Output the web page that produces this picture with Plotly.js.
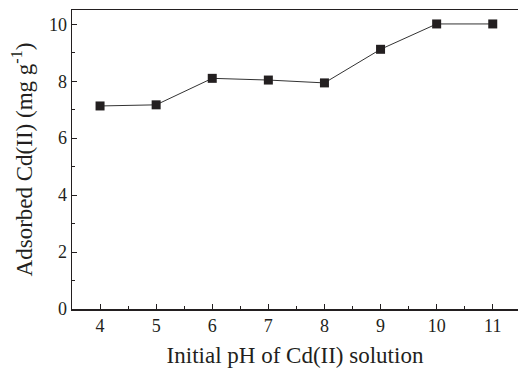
<!DOCTYPE html>
<html>
<head>
<meta charset="utf-8">
<script src="https://cdn.plot.ly/plotly-3.0.1.min.js"></script>
<style>html,body{margin:0;padding:0;overflow:hidden;background:#fff;}</style>
</head>
<body>
<div id="chart" style="width:518px;height:374px;"></div>
<script>
const pH = [4, 5, 6, 7, 8, 9, 10, 11];
const adsorbed = [7.13, 7.17, 8.10, 8.04, 7.94, 9.12, 10.01, 10.01];
const xTicks = [4, 5, 6, 7, 8, 9, 10, 11];
const yTicks = [0, 2, 4, 6, 8, 10];

const trace = {
  x: pH, y: adsorbed, type: 'scatter', mode: 'lines+markers',
  line: {color: '#333', width: 1},
  marker: {symbol: 'square', size: 9, color: '#231f20'},
  showlegend: false
};
const font = {family: '"Liberation Serif", "Times New Roman", serif', color: '#231f20'};
const layout = {
  width: 518, height: 374,
  margin: {l: 72, r: 0, t: 10, b: 65},
  paper_bgcolor: '#fff', plot_bgcolor: '#fff',
  font: Object.assign({size: 18}, font),
  xaxis: {
    range: [3.5, 11.45], tickvals: xTicks, ticks: 'inside', ticklen: 5, tickwidth: 1,
    tickcolor: '#231f20', showline: true, linecolor: '#231f20', linewidth: 1.5,
    mirror: true, showgrid: false, zeroline: false,
    minor: {dtick: 0.5, tick0: 0.5, ticks: 'inside', ticklen: 3, tickcolor: '#231f20', showgrid: false},
    tickfont: {size: 18},
    title: {text: 'Initial pH of Cd(II) solution', font: {size: 23}, standoff: 12}
  },
  yaxis: {
    range: [0, 10.5], tickvals: yTicks, ticks: 'inside', ticklen: 5, tickwidth: 1,
    tickcolor: '#231f20', showline: true, linecolor: '#231f20', linewidth: 1.5,
    showgrid: false, zeroline: false,
    minor: {dtick: 1, tick0: 1, ticks: 'inside', ticklen: 3, tickcolor: '#231f20', showgrid: false},
    tickfont: {size: 18},
    title: {text: 'Adsorbed Cd(II) (mg g<sup>-1</sup>)', font: {size: 23}, standoff: 10}
  }
};
Plotly.newPlot('chart', [trace], layout, {displayModeBar: false, staticPlot: true});
</script>
</body>
</html>
